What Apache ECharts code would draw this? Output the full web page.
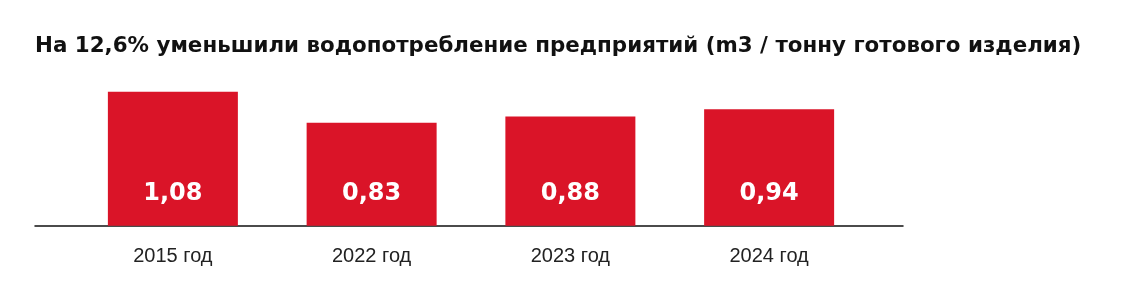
<!DOCTYPE html>
<html>
<head>
<meta charset="utf-8">
<script src="https://cdn.jsdelivr.net/npm/echarts@6/dist/echarts.min.js"></script>
<style>
html,body{margin:0;padding:0;background:#fff;}
#chart{width:1128px;height:284px;}
</style>
</head>
<body>
<div id="chart"></div>
<script>
var titleText = 'На 12,6% уменьшили водопотребление предприятий (m3 / тонну готового изделия)';
var categories = ['2015 год', '2022 год', '2023 год', '2024 год'];
var values = [1.08, 0.83, 0.88, 0.94];

var chart = echarts.init(document.getElementById('chart'), null, {renderer: 'canvas'});
var FONT = '"Liberation Sans", Arial, Helvetica, sans-serif';
var BOLDFONT = '"DejaVu Sans", "Liberation Sans", Arial, sans-serif';
var option = {
  backgroundColor: '#ffffff',
  animation: false,
  title: {
    text: titleText,
    left: 35,
    top: 36,
    padding: 0,
    textStyle: {fontFamily: BOLDFONT, fontSize: 21.4, fontWeight: 'bold', color: '#111111'}
  },
  grid: [
    {left: 35, right: 225, top: 89.3, bottom: 58.3},
    {left: 73.5, right: 259.5, top: 89.3, bottom: 58.3}
  ],
  xAxis: [
    {
      gridIndex: 0, type: 'value', min: 0, max: 1,
      axisLine: {show: true, lineStyle: {color: '#111111', width: 1.5}},
      axisTick: {show: false}, axisLabel: {show: false}, splitLine: {show: false}
    },
    {
      gridIndex: 1, type: 'category', data: categories,
      axisLine: {show: false}, axisTick: {show: false},
      axisLabel: {fontFamily: FONT, fontSize: 20, color: '#222222', margin: 21}
    }
  ],
  yAxis: [
    {gridIndex: 0, type: 'value', min: 0, max: 1, show: false},
    {gridIndex: 1, type: 'value', min: 0, max: 1.1, show: false}
  ],
  series: [
    {
      type: 'bar', xAxisIndex: 1, yAxisIndex: 1,
      data: values, barWidth: 130,
      itemStyle: {color: '#DA1428'},
      label: {
        show: true, position: 'insideBottom', distance: 20,
        fontFamily: BOLDFONT, fontSize: 24, fontWeight: 'bold', color: '#ffffff',
        formatter: function (p) { return p.value.toFixed(2).replace('.', ','); }
      }
    }
  ]
};
chart.setOption(option);
</script>
</body>
</html>
